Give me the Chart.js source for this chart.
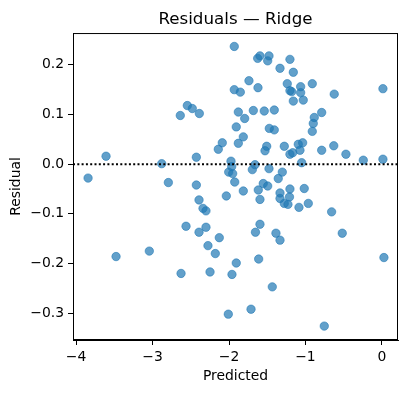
<!DOCTYPE html>
<html>
<head>
<meta charset="utf-8">
<script src="https://cdn.jsdelivr.net/npm/chart.js@4"></script>
<style>
  body { margin: 0; background: #fff; }
</style>
</head>
<body>
<canvas id="resid" width="408" height="393"></canvas>
<script>
// predicted values and residuals
const predicted = [
  -1.931, -1.625, -1.595, -1.494, -1.477, -1.203, -1.333, -1.159, -1.739, -1.621,
  -1.931, -1.852, -1.238, -1.063, -1.180, -1.203, -1.063, -0.911, -0.624, 0.013,
  -1.159, -1.029, -2.637, -2.545, -2.480, -2.388, -1.878, -1.795, -1.682, -1.539,
  -1.408, -1.905, -1.813, -1.878, -2.088, -2.140, -1.473, -1.408, -0.788, -0.885,
  -0.898, -0.911, -1.507, -1.529, -1.277, -1.094, -1.037, -1.203, -1.167, -1.072,
  -0.788, -0.630, -0.471, -0.244, 0.013, -1.050, -1.660, -2.427, -3.608, -2.880,
  -1.974, -1.965, -2.004, -1.952, -1.925, -1.695, -1.477, -1.303, -1.356, -1.552,
  -1.494, -1.617, -1.595, -1.813, -2.035, -1.333, -1.333, -1.277, -1.229, -1.203,
  -1.209, -1.016, -0.963, -1.085, -0.658, -3.843, -2.793, -2.427, -2.392, -2.340,
  -2.301, -2.562, -2.392, -2.301, -2.127, -2.275, -2.179, -2.627, -2.248, -1.595,
  -1.654, -1.386, -1.333, -0.519, 0.026, -1.905, -1.961, -1.612, -1.434, -2.009,
  -1.712, -0.754, -3.477, -3.042
];
const residual = [
  0.237, 0.213, 0.218, 0.208, 0.218, 0.211, 0.193, 0.185, 0.168, 0.154,
  0.150, 0.145, 0.162, 0.156, 0.146, 0.148, 0.144, 0.162, 0.141, 0.152,
  0.127, 0.129, 0.098, 0.118, 0.112, 0.102, 0.105, 0.092, 0.108, 0.107,
  0.109, 0.075, 0.055, 0.042, 0.043, 0.030, 0.072, 0.069, 0.104, 0.094,
  0.082, 0.066, 0.036, 0.027, 0.036, 0.040, 0.043, 0.020, 0.023, 0.028,
  0.028, 0.037, 0.020, 0.008, 0.010, 0.003, -0.001, 0.014, 0.016, 0.001,
  0.006, -0.005, -0.016, -0.019, -0.036, -0.011, -0.009, -0.016, -0.029, -0.039,
  -0.044, -0.052, -0.071, -0.054, -0.064, -0.058, -0.069, -0.079, -0.081, -0.050,
  -0.066, -0.049, -0.079, -0.087, -0.096, -0.028, -0.037, -0.042, -0.072, -0.089,
  -0.094, -0.125, -0.137, -0.127, -0.148, -0.164, -0.180, -0.220, -0.217, -0.121,
  -0.137, -0.139, -0.153, -0.139, -0.188, -0.199, -0.222, -0.191, -0.247, -0.302,
  -0.292, -0.326, -0.186, -0.175
];

const xTicks = [-4, -3, -2, -1, 0];
const yTicks = [-0.3, -0.2, -0.1, 0.0, 0.1, 0.2];
const xLimits = [-4.04, 0.21];
const yLimits = [-0.354, 0.264];

const FONT = "'DejaVu Sans', sans-serif";
const minus = s => String(s).replace('-', '\u2212');

// matplotlib style closed box around the axes
const frame = {
  id: 'frame',
  afterDatasetsDraw(chart) {
    const { ctx, chartArea: a } = chart;
    ctx.save();
    ctx.strokeStyle = '#000';
    ctx.lineWidth = 1;
    ctx.strokeRect(a.left + 0.5, a.top + 0.5, a.right - a.left - 1, a.bottom - a.top - 1);
    ctx.restore();
  }
};

new Chart(document.getElementById('resid'), {
  data: {
    datasets: [
      {
        type: 'line',
        data: xLimits.map(x => ({ x: x, y: 0 })),
        borderColor: '#000',
        borderWidth: 2,
        borderDash: [2, 2.3],
        pointRadius: 0,
        fill: false,
      },
      {
        type: 'scatter',
        data: predicted.map((x, i) => ({ x: x, y: residual[i] })),
        backgroundColor: 'rgba(31,119,180,0.7)',
        borderColor: 'rgba(31,119,180,0.7)',
        borderWidth: 0.8,
        pointRadius: 4.2,
      },
    ],
  },
  options: {
    responsive: false,
    animation: false,
    devicePixelRatio: 1,
    layout: { padding: { left: 0, right: 10, top: 0, bottom: 0 } },
    plugins: {
      legend: { display: false },
      tooltip: { enabled: false },
      title: {
        display: true,
        text: 'Residuals \u2014 Ridge',
        fullSize: false,
        color: '#000',
        font: { family: FONT, size: 16.7, weight: 'normal' },
        padding: { top: 10, bottom: 3 },
      },
    },
    scales: {
      x: {
        type: 'linear',
        min: xLimits[0],
        max: xLimits[1],
        afterBuildTicks: s => { s.ticks = xTicks.map(v => ({ value: v })); },
        afterFit: s => { s.height = 53; },
        ticks: {
          color: '#000',
          padding: 4,
          font: { family: FONT, size: 13.9 },
          callback: v => minus(v),
        },
        grid: { drawOnChartArea: false, drawTicks: true, tickLength: 5, color: '#000' },
        border: { display: true, color: '#000', width: 1 },
        title: {
          display: true,
          text: 'Predicted',
          color: '#000',
          font: { family: FONT, size: 13.9 },
          padding: { top: 0, bottom: 8.2 },
        },
      },
      y: {
        type: 'linear',
        min: yLimits[0],
        max: yLimits[1],
        afterBuildTicks: s => { s.ticks = yTicks.map(v => ({ value: v })); },
        afterFit: s => { s.width = 73; },
        ticks: {
          color: '#000',
          padding: 4,
          font: { family: FONT, size: 13.9 },
          callback: v => minus(v.toFixed(1)),
        },
        grid: { drawOnChartArea: false, drawTicks: true, tickLength: 5, color: '#000' },
        border: { display: true, color: '#000', width: 1 },
        title: {
          display: true,
          text: 'Residual',
          color: '#000',
          font: { family: FONT, size: 13.9 },
          padding: { top: 7.7, bottom: 0 },
        },
      },
    },
  },
  plugins: [frame],
});
</script>
</body>
</html>
